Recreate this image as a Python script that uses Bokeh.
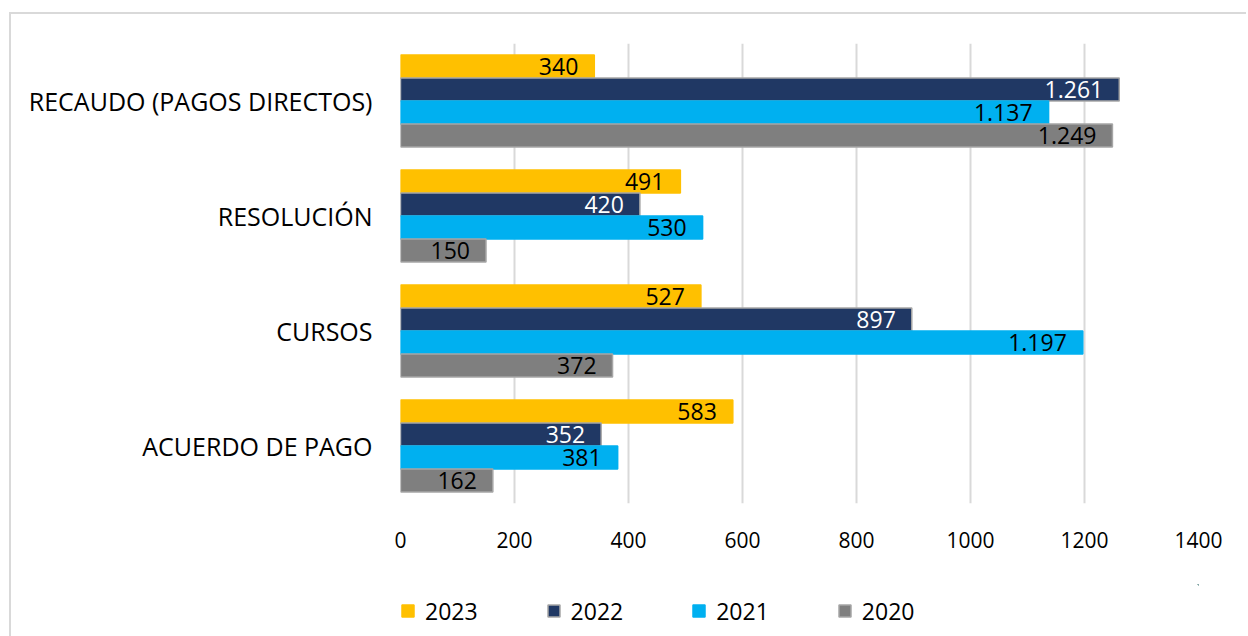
from bokeh.plotting import figure
from bokeh.layouts import column
from bokeh.models import ColumnDataSource, FactorRange, Legend, LegendItem, Range1d, FixedTicker
from bokeh.transform import dodge
from bokeh.core.properties import value
from bokeh.embed import file_html
from bokeh.resources import INLINE

categories = ["ACUERDO DE PAGO", "CURSOS", "RESOLUCIÓN", "RECAUDO (PAGOS DIRECTOS)"]
years = ["2023", "2022", "2021", "2020"]
v2023 = [583, 527, 491, 340]
v2022 = [352, 897, 420, 1261]
v2021 = [381, 1197, 530, 1137]
v2020 = [162, 372, 150, 1249]
x_ticks = [0, 200, 400, 600, 800, 1000, 1200, 1400]

series = [v2023, v2022, v2021, v2020]
fills = ["#FFC000", "#203864", "#00B0F0", "#7F7F7F"]
lines = ["#FFC000", "#A6A6A6", "#00B0F0", "#A6A6A6"]
text_colors = ["#000000", "#FFFFFF", "#000000", "#000000"]
offsets = [0.3, 0.1, -0.1, -0.3]

FONT = "Open Sans"

p = figure(width=1237, height=572,
           y_range=FactorRange(factors=categories, range_padding=0),
           x_range=Range1d(0, 1400), output_backend="svg", toolbar_location=None,
           min_border_left=389, min_border_right=50, min_border_top=29, min_border_bottom=83)
p.margin = (12, 0, 0, 9)
p.styles = {"border-left": "2px solid #D9D9D9", "border-top": "2px solid #D9D9D9"}
p.outline_line_color = None
p.background_fill_color = "white"

p.xaxis.ticker = FixedTicker(ticks=x_ticks)
p.xaxis.axis_line_color = None
p.xaxis.major_tick_line_color = None
p.xaxis.minor_tick_line_color = None
p.xaxis.major_label_text_font = FONT
p.xaxis.major_label_text_font_size = "21px"
p.xaxis.major_label_text_color = "#000000"
p.xaxis.major_label_standoff = 22

p.yaxis.axis_line_color = None
p.yaxis.major_tick_line_color = None
p.yaxis.major_label_text_font = FONT
p.yaxis.major_label_text_font_size = "25px"
p.yaxis.major_label_text_color = "#000000"
p.yaxis.major_label_standoff = 22

p.xgrid.grid_line_color = "#D9D9D9"
p.xgrid.grid_line_width = 2
p.ygrid.grid_line_color = None

# legend strip below the chart (its frame is aligned with the chart's frame)
lf = figure(width=1237, height=53, x_axis_type=None, y_axis_type=None,
            x_range=Range1d(-2, -1), y_range=Range1d(-1, 0),
            output_backend="svg", toolbar_location=None, min_border=0)
lf.margin = (0, 0, 0, 9)
lf.styles = {"border-left": "2px solid #D9D9D9"}
lf.outline_line_color = None
lf.grid.grid_line_color = None

items = []
for yr, vals, fc, lc, tc, off in zip(years, series, fills, lines, text_colors, offsets):
    labels = [f"{v:,}".replace(",", ".") for v in vals]
    src = ColumnDataSource(dict(cat=categories, val=vals, lab=labels))
    p.hbar(y=dodge("cat", off, range=p.y_range), left=0, right="val", height=0.2,
           source=src, fill_color=fc, line_color=lc, line_width=1.5)
    p.text(x="val", y=dodge("cat", off, range=p.y_range), text="lab", source=src,
           text_align="right", text_baseline="middle", x_offset=-16,
           text_font=value(FONT), text_font_size="23px", text_color=tc)
    # legend key renderer (same data, outside the strip's visible range)
    key = lf.hbar(y="val", left=0, right=0, height=0, source=src,
                  fill_color=fc, line_color=lc, line_width=1.5)
    items.append(LegendItem(label=yr, renderers=[key]))

legend = Legend(items=items, orientation="horizontal", location="left",
                glyph_width=15, glyph_height=15, label_standoff=10, spacing=68,
                label_text_font=FONT, label_text_font_size="23px", label_text_color="#000000",
                border_line_color=None, background_fill_alpha=0, padding=3, margin=0)
lf.add_layout(legend, "center")

layout = column(p, lf, spacing=0)
open("out.html", "w").write(file_html(layout, INLINE))
